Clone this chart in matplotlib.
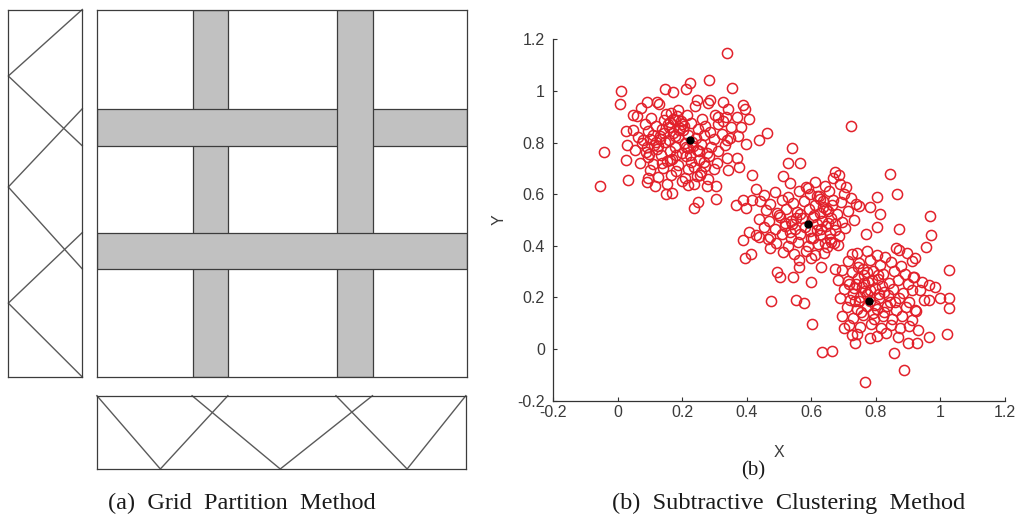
import matplotlib
matplotlib.use("Agg")
import matplotlib.pyplot as plt
from matplotlib.patches import Rectangle

# ---------------- data ----------------
# Grid partition: triangular membership functions (normalised input 0..1)
# horizontal input (bottom strip): (left foot, peak, right foot)
mf_x = [(0.0, 0.172, 0.355), (0.258, 0.497, 0.747), (0.648, 0.841, 1.0)]
# vertical input (left strip), measured from the top
mf_y = [(0.0, 0.181, 0.371), (0.270, 0.483, 0.706), (0.607, 0.799, 1.0)]

# Subtractive clustering scatter
c1_x = [0.339, 0.282, 0.009, 0.006, -0.042, -0.055, 0.030, 0.025, 0.025, 0.029, 0.048, 0.090, 0.120,
        0.147, 0.171, 0.212, 0.225, 0.246, 0.286, 0.327, 0.355, 0.387, 0.394, 0.406, 0.382, 0.396,
        0.372, 0.463, 0.439, 0.368, 0.376, 0.342, 0.303, 0.303, 0.248, 0.237, 0.168, 0.150, 0.116,
        0.094, 0.219, 0.276, 0.365, 0.387, 0.339, 0.334, 0.310,
        0.071, 0.128, 0.186, 0.238, 0.279, 0.342, 0.058, 0.104, 0.149, 0.176, 0.213, 0.262, 0.301,
        0.327, 0.368, 0.083, 0.119, 0.161, 0.192, 0.228, 0.271, 0.309, 0.352, 0.046, 0.094, 0.137,
        0.171, 0.203, 0.219, 0.248, 0.287, 0.322, 0.064, 0.101, 0.132, 0.158, 0.187, 0.241, 0.266,
        0.298, 0.347, 0.074, 0.113, 0.146, 0.178, 0.207, 0.232, 0.258, 0.289, 0.331, 0.052, 0.086,
        0.121, 0.163, 0.198, 0.244, 0.276, 0.312, 0.092, 0.134, 0.169, 0.211, 0.252, 0.284, 0.338,
        0.069, 0.108, 0.152, 0.188, 0.226, 0.269, 0.306, 0.099, 0.141, 0.179, 0.217, 0.258, 0.297,
        0.123, 0.166, 0.209, 0.246, 0.281, 0.089, 0.151, 0.198, 0.236,
        0.165, 0.182, 0.155, 0.196, 0.142, 0.205, 0.118, 0.091, 0.229, 0.216,
        0.172, 0.158, 0.189, 0.176, 0.144, 0.131, 0.199, 0.108, 0.124, 0.181, 0.163, 0.211, 0.252,
        0.237, 0.268, 0.254, 0.224, 0.079, 0.097, 0.138]
c1_y = [1.147, 1.043, 1.001, 0.950, 0.763, 0.631, 0.656, 0.733, 0.843, 0.789, 0.908, 0.959, 0.956,
        1.008, 0.995, 1.008, 1.031, 0.966, 0.963, 0.956, 1.010, 0.947, 0.930, 0.892, 0.862, 0.795,
        0.827, 0.838, 0.808, 0.741, 0.705, 0.692, 0.631, 0.582, 0.570, 0.548, 0.604, 0.602, 0.631,
        0.664, 0.634, 0.631, 0.557, 0.576, 0.808, 0.898, 0.898,
        0.934, 0.948, 0.927, 0.941, 0.952, 0.930, 0.902, 0.897, 0.911, 0.889, 0.905, 0.893, 0.908,
        0.884, 0.899, 0.872, 0.864, 0.879, 0.858, 0.874, 0.866, 0.872, 0.861, 0.848, 0.843, 0.852,
        0.838, 0.849, 0.829, 0.851, 0.842, 0.835, 0.821, 0.814, 0.826, 0.809, 0.822, 0.818, 0.829,
        0.812, 0.818, 0.797, 0.789, 0.801, 0.784, 0.798, 0.787, 0.795, 0.781, 0.791, 0.771, 0.764,
        0.776, 0.768, 0.761, 0.772, 0.758, 0.769, 0.743, 0.751, 0.738, 0.747, 0.734, 0.746, 0.741,
        0.722, 0.716, 0.727, 0.713, 0.724, 0.711, 0.719, 0.694, 0.701, 0.689, 0.697, 0.686, 0.699,
        0.668, 0.674, 0.661, 0.671, 0.658, 0.647, 0.641, 0.652, 0.638,
        0.915, 0.902, 0.872, 0.884, 0.838, 0.866, 0.802, 0.782, 0.802, 0.779,
        0.893, 0.862, 0.847, 0.826, 0.889, 0.815, 0.873, 0.829, 0.787, 0.751, 0.733, 0.781, 0.766,
        0.705, 0.723, 0.676, 0.751, 0.808, 0.756, 0.722]

c2_x = [0.722, 0.540, 0.526, 0.565, 0.511, 0.535, 0.417, 0.428, 0.417, 0.396, 0.387, 0.394, 0.412,
        0.406, 0.436, 0.465, 0.471, 0.494, 0.503, 0.476, 0.543, 0.561, 0.553, 0.578, 0.599, 0.602,
        0.631, 0.634, 0.663, 0.672, 0.706, 0.674, 0.685, 0.738, 0.781, 0.802, 0.845, 0.866, 0.813,
        0.802, 0.872, 0.770, 0.725,
        0.612, 0.641, 0.668, 0.689, 0.583, 0.452, 0.487, 0.528, 0.562, 0.597, 0.624, 0.655, 0.701,
        0.724, 0.441, 0.473, 0.509, 0.543, 0.578, 0.611, 0.637, 0.664, 0.692, 0.747, 0.458, 0.494,
        0.521, 0.556, 0.592, 0.626, 0.651, 0.679, 0.712, 0.437, 0.469, 0.503, 0.538, 0.571, 0.604,
        0.633, 0.662, 0.696, 0.731, 0.452, 0.486, 0.517, 0.549, 0.581, 0.617, 0.646, 0.673, 0.705,
        0.429, 0.471, 0.508, 0.536, 0.566, 0.598, 0.628, 0.657, 0.684, 0.491, 0.526, 0.559, 0.588,
        0.619, 0.648, 0.671, 0.513, 0.547, 0.583, 0.611, 0.638, 0.599, 0.561,
        0.635, 0.652, 0.618, 0.566, 0.541, 0.606, 0.668,
        0.626, 0.644, 0.609, 0.658, 0.631, 0.597, 0.673, 0.552, 0.519, 0.534, 0.499, 0.642, 0.617,
        0.588, 0.662, 0.681]
c2_y = [0.866, 0.778, 0.722, 0.722, 0.669, 0.644, 0.673, 0.621, 0.579, 0.548, 0.424, 0.353, 0.370,
        0.454, 0.434, 0.428, 0.392, 0.299, 0.280, 0.186, 0.280, 0.318, 0.192, 0.177, 0.258, 0.097,
        0.318, -0.013, -0.008, 0.312, 0.628, 0.686, 0.673, 0.563, 0.550, 0.589, 0.679, 0.602, 0.524,
        0.473, 0.464, 0.447, 0.370,
        0.648, 0.632, 0.661, 0.641, 0.629, 0.598, 0.607, 0.589, 0.612, 0.601, 0.593, 0.611, 0.602,
        0.584, 0.572, 0.561, 0.577, 0.566, 0.572, 0.558, 0.574, 0.559, 0.568, 0.556, 0.538, 0.529,
        0.543, 0.531, 0.541, 0.527, 0.536, 0.524, 0.533, 0.503, 0.497, 0.511, 0.498, 0.507, 0.512,
        0.498, 0.506, 0.494, 0.501, 0.471, 0.465, 0.478, 0.467, 0.473, 0.462, 0.477, 0.461, 0.469,
        0.441, 0.436, 0.447, 0.432, 0.444, 0.431, 0.443, 0.428, 0.439, 0.409, 0.401, 0.413, 0.398,
        0.407, 0.396, 0.411, 0.377, 0.369, 0.381, 0.366, 0.374, 0.352, 0.345,
        0.552, 0.488, 0.486, 0.522, 0.484, 0.431, 0.579,
        0.581, 0.543, 0.519, 0.451, 0.466, 0.456, 0.484, 0.508, 0.487, 0.452, 0.521, 0.412, 0.594,
        0.624, 0.414, 0.402]

c3_x = [0.767, 0.886, 0.856, 0.781, 0.736, 0.727, 0.701, 0.898, 0.928, 0.963, 1.021, 1.025, 1.027,
        1.000, 1.027, 0.971, 0.967, 0.955, 0.922, 0.963, 0.984, 0.936, 0.963, 0.872, 0.915, 0.920,
        0.931,
        0.741, 0.772, 0.803, 0.829, 0.861, 0.896, 0.911, 0.712, 0.748, 0.783, 0.812, 0.846, 0.878,
        0.694, 0.726, 0.759, 0.791, 0.821, 0.857, 0.889, 0.918, 0.681, 0.713, 0.744, 0.776, 0.807,
        0.839, 0.868, 0.899, 0.942, 0.701, 0.733, 0.765, 0.797, 0.826, 0.853, 0.884, 0.913, 0.688,
        0.721, 0.752, 0.781, 0.811, 0.843, 0.872, 0.904, 0.949, 0.709, 0.741, 0.772, 0.803, 0.834,
        0.862, 0.893, 0.924, 0.696, 0.729, 0.761, 0.793, 0.822, 0.851, 0.881, 0.912, 0.718, 0.752,
        0.784, 0.816, 0.847, 0.876, 0.903, 0.741, 0.803, 0.832, 0.868,
        0.738, 0.762, 0.789, 0.756, 0.728, 0.818,
        0.771, 0.748, 0.796, 0.763, 0.783, 0.809, 0.734, 0.824, 0.753, 0.792, 0.718, 0.838, 0.771,
        0.806, 0.858, 0.744]
c3_y = [-0.129, -0.081, -0.014, 0.041, 0.022, 0.054, 0.080, 0.022, 0.022, 0.045, 0.058, 0.161, 0.198,
        0.198, 0.305, 0.441, 0.515, 0.396, 0.354, 0.247, 0.241, 0.228, 0.189, 0.385, 0.280, 0.151,
        0.073,
        0.372, 0.381, 0.364, 0.358, 0.392, 0.371, 0.343, 0.341, 0.333, 0.346, 0.327, 0.339, 0.322,
        0.308, 0.297, 0.311, 0.302, 0.289, 0.304, 0.291, 0.279, 0.268, 0.262, 0.274, 0.259, 0.271,
        0.256, 0.268, 0.252, 0.261, 0.231, 0.238, 0.224, 0.236, 0.221, 0.233, 0.219, 0.228, 0.197,
        0.192, 0.203, 0.188, 0.199, 0.184, 0.196, 0.181, 0.191, 0.162, 0.157, 0.168, 0.154, 0.165,
        0.151, 0.163, 0.148, 0.128, 0.121, 0.133, 0.118, 0.129, 0.116, 0.127, 0.112, 0.092, 0.087,
        0.098, 0.083, 0.094, 0.081, 0.089, 0.058, 0.052, 0.061, 0.048,
        0.251, 0.286, 0.267, 0.242, 0.212, 0.245,
        0.213, 0.187, 0.172, 0.257, 0.229, 0.214, 0.186, 0.143, 0.142, 0.138, 0.252, 0.211, 0.298,
        0.287, 0.183, 0.318]

centers_x = [0.225, 0.590, 0.780]
centers_y = [0.810, 0.485, 0.185]

ticks = [-0.2, 0, 0.2, 0.4, 0.6, 0.8, 1, 1.2]
tick_labels = ["-0.2", "0", "0.2", "0.4", "0.6", "0.8", "1", "1.2"]

caption_a = "(a)  Grid  Partition  Method"
caption_b = "(b)  Subtractive  Clustering  Method"
sub_b = "(b)"

# ---------------- figure ----------------
W, H = 1020, 523
fig = plt.figure(figsize=(W / 100, H / 100), dpi=100)
fig.patch.set_facecolor("white")

def px_axes(l, t, r, b):
    return fig.add_axes([l / W, 1 - b / H, (r - l) / W, (b - t) / H])

edge = "#3c3c3c"
mfcol = "#5a5a5a"
gray = "#c1c1c1"

def box_style(ax):
    ax.set_xticks([]); ax.set_yticks([])
    for s in ax.spines.values():
        s.set_color(edge); s.set_linewidth(0.9)

# left strip (vertical input)
axL = px_axes(8.3, 9.5, 82.3, 377)
box_style(axL)
axL.set_xlim(1, 0); axL.set_ylim(1, 0)
for a, p, b in mf_y:
    axL.plot([0, 1, 0], [a, p, b], color=mfcol, lw=1.0, clip_on=False)

# bottom strip (horizontal input)
axB = px_axes(96.9, 395.7, 465.8, 469)
box_style(axB)
axB.set_xlim(0, 1); axB.set_ylim(1, 0)
for a, p, b in mf_x:
    axB.plot([a, p, b], [0, 1, 0], color=mfcol, lw=1.0, clip_on=False)

# main grid
axG = px_axes(97.3, 9.5, 466.7, 377)
box_style(axG)
axG.set_xlim(0, 1); axG.set_ylim(1, 0)
vbars = [(mf_x[i + 1][0], mf_x[i][2]) for i in range(len(mf_x) - 1)]
hbars = [(mf_y[i + 1][0], mf_y[i][2]) for i in range(len(mf_y) - 1)]
z_v = [2, 4]
z_h = [3, 5]
for (x0, x1), z in zip(vbars, z_v):
    axG.add_patch(Rectangle((x0, 0), x1 - x0, 1, facecolor=gray, edgecolor=edge, lw=0.9, zorder=z))
for (y0, y1), z in zip(hbars, z_h):
    axG.add_patch(Rectangle((0, y0), 1, y1 - y0, facecolor=gray, edgecolor=edge, lw=0.9, zorder=z))
for s in axG.spines.values():
    s.set_zorder(10)

# scatter
axS = px_axes(553.3, 39.3, 1005, 400.7)
axS.set_xlim(-0.2, 1.2); axS.set_ylim(-0.2, 1.2)
red = "#e2202a"
for xs, ys in [(c1_x, c1_y), (c2_x, c2_y), (c3_x, c3_y)]:
    axS.plot(xs, ys, linestyle="none", marker="o", ms=7.3, mfc="none", mec=red, mew=1.1, clip_on=False)
axS.plot(centers_x, centers_y, linestyle="none", marker="o", ms=5, color="black", zorder=5)
for s in ["top", "right"]:
    axS.spines[s].set_visible(False)
for s in ["left", "bottom"]:
    axS.spines[s].set_color("#333333"); axS.spines[s].set_linewidth(0.9)
axS.set_xticks(ticks); axS.set_xticklabels(tick_labels)
axS.set_yticks(ticks); axS.set_yticklabels(tick_labels)
lab_font = ["Liberation Sans", "DejaVu Sans"]
axS.tick_params(axis="both", direction="in", length=3, width=0.8, color="#333333",
                labelcolor="#3a3a3a", labelsize=11.5)
axS.tick_params(axis="x", pad=3)
axS.tick_params(axis="y", pad=6)
for lab in axS.get_xticklabels() + axS.get_yticklabels():
    lab.set_family(lab_font)
axS.set_xlabel("X", fontsize=11.5, color="#3a3a3a", family=lab_font, labelpad=18)
axS.set_ylabel("Y", fontsize=11.5, color="#3a3a3a", family=lab_font, labelpad=8)

serif = ["Liberation Serif", "DejaVu Serif"]
fig.text(753 / W, 1 - 471 / H, sub_b, ha="center", va="center", fontsize=15, family=serif, color="#1a1a1a")
fig.text(242 / W, 1 - 503 / H, caption_a, ha="center", va="center", fontsize=17.5, family=serif, color="#1a1a1a")
fig.text(788.5 / W, 1 - 503 / H, caption_b, ha="center", va="center", fontsize=17.5, family=serif, color="#1a1a1a")

fig.savefig("out.png", dpi=100, facecolor="white")
